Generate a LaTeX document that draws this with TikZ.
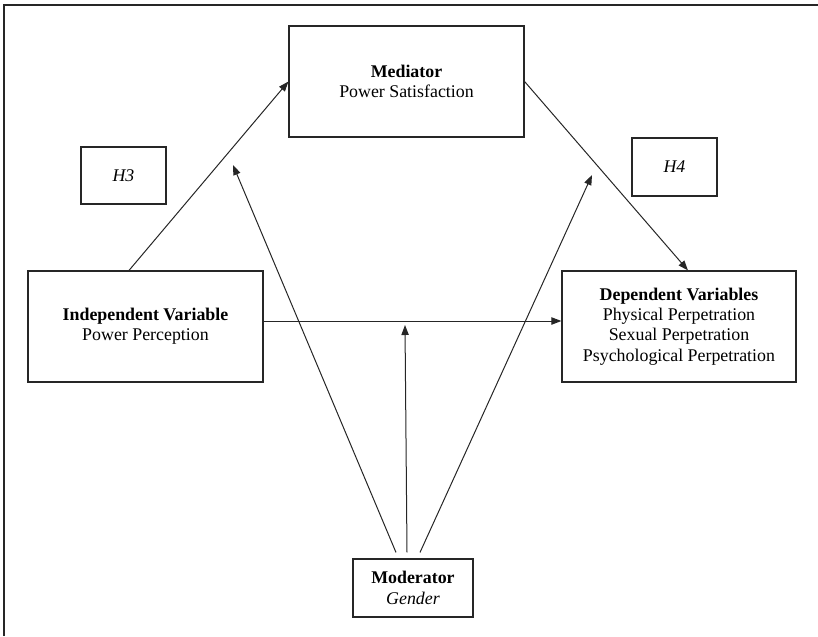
\documentclass[tikz,border=0pt]{standalone}
\usepackage{fontspec}
\setmainfont{Liberation Serif}
\usetikzlibrary{arrows.meta,calc}
\tikzset{
  box/.style={draw=black!85, line width=0.85pt, inner sep=0pt, align=center,
    font=\fontsize{13.4}{15.2}\selectfont},
  conn/.style={draw=black!85, line width=0.75pt, -{Triangle[length=7.5pt,width=5.5pt]}},
  frame/.style={draw=black!85, line width=1.1pt}
}
\begin{document}
\begin{tikzpicture}[x=0.75pt,y=-0.75pt]
\useasboundingbox (0,0) rectangle (818,636);
\draw[frame] (4,636) -- (4,5) -- (818,5);

\node[box, minimum width=176.25pt, minimum height=83.25pt] (med) at (406.5,81.5)
  {\textbf{Mediator}\\Power Satisfaction};
\node[box, minimum width=63.75pt, minimum height=42.75pt] (h3) at (123.5,175.5) {\textit{H3}};
\node[box, minimum width=63.75pt, minimum height=43.5pt] (h4) at (674.5,167) {\textit{H4}};
\node[box, minimum width=176.25pt, minimum height=83.25pt] (iv) at (145.5,326.5)
  {\textbf{Independent Variable}\\Power Perception};
\node[box, minimum width=175.5pt, minimum height=83.25pt] (dv) at (679,326.5)
  {\textbf{Dependent Variables}\\Physical Perpetration\\Sexual Perpetration\\Psychological Perpetration};
\node[box, minimum width=90pt, minimum height=43.5pt] (mod) at (413,588)
  {\textbf{Moderator}\\\textit{Gender}};

\coordinate (tipA) at (233,165);
\coordinate (tipB) at (405,325);
\coordinate (tipC) at (592,175);

\draw[conn] ($(iv.north)+(-16.5,0)$) -- (med.west);
\draw[conn] (med.east) -- ($(dv.north)+(9,0)$);
\draw[conn] ($(iv.east)+(0,-5.5)$) -- ($(dv.west)+(0,-5.5)$);
\draw[conn] ($(mod.north)+(-17,-6)$) -- (tipA);
\draw[conn] ($(mod.north)+(-6,-6)$) -- (tipB);
\draw[conn] ($(mod.north)+(7,-6)$) -- (tipC);
\end{tikzpicture}
\end{document}
